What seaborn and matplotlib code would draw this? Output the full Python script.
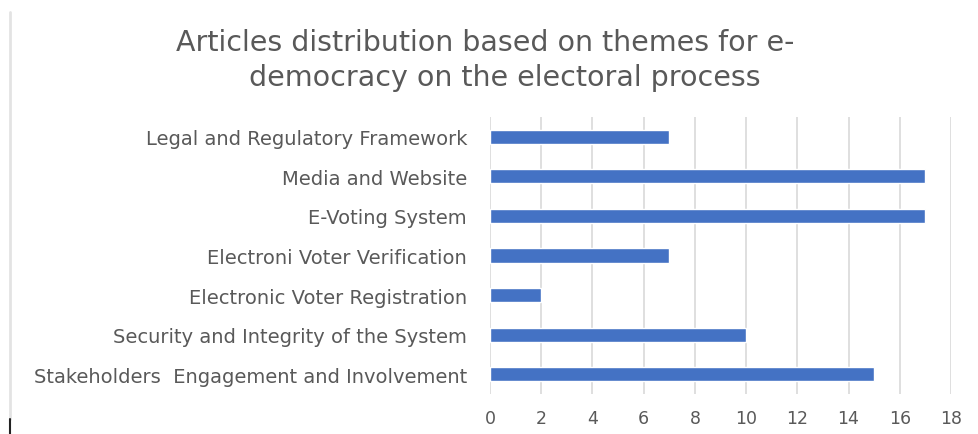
import matplotlib
matplotlib.use("Agg")
import matplotlib.pyplot as plt
from matplotlib.lines import Line2D
import seaborn as sns
import pandas as pd

themes = [
    "Legal and Regulatory Framework",
    "Media and Website",
    "E-Voting System",
    "Electroni Voter Verification",
    "Electronic Voter Registration",
    "Security and Integrity of the System",
    "Stakeholders  Engagement and Involvement",
]
articles = [7, 17, 17, 7, 2, 10, 15]
x_ticks = [0, 2, 4, 6, 8, 10, 12, 14, 16, 18]

title_line1 = "Articles distribution based on themes for e-"
title_line2 = "democracy on the electoral process"

df = pd.DataFrame({"theme": themes, "articles": articles})

sns.set_theme(style="white")
plt.rcParams["font.family"] = ["DejaVu Sans"]

text_color = "#595959"
bar_color = "#4472C4"
grid_color = "#D9D9D9"

fig = plt.figure(figsize=(9.79, 4.35), dpi=100)
ax = fig.add_axes([490 / 979, 1 - 395 / 435, (951 - 490) / 979, (395 - 118) / 435])

sns.barplot(data=df, x="articles", y="theme", orient="h", color=bar_color,
            width=0.36, saturation=1, ax=ax, zorder=3)

ax.set_xlim(0, 18)
ax.set_xticks(x_ticks)
ax.set_xticklabels([str(t) for t in x_ticks])
ax.set_xlabel("")
ax.set_ylabel("")
ax.grid(axis="x", color=grid_color, linewidth=1.2, zorder=0)
ax.grid(axis="y", visible=False)
for s in ax.spines.values():
    s.set_visible(False)
ax.tick_params(axis="x", length=0, pad=11, labelsize=12.5, labelcolor=text_color)
ax.tick_params(axis="y", length=0, pad=16.5, labelsize=14, labelcolor=text_color)

fig.text(485 / 979, 1 - 43 / 435, title_line1, ha="center", va="center",
         fontsize=20.5, color=text_color)
fig.text(505 / 979, 1 - 78 / 435, title_line2, ha="center", va="center",
         fontsize=20.5, color=text_color)

# frame edge on the left of the canvas
fig.add_artist(Line2D([10 / 979, 10 / 979], [1 - 13 / 435, 1 - 420 / 435],
                      transform=fig.transFigure, color="#E3E3E3", linewidth=2))
fig.add_artist(Line2D([10 / 979, 10 / 979], [1 - 420 / 435, 0],
                      transform=fig.transFigure, color="#222222", linewidth=1.5))

fig.savefig("out.png", dpi=100, facecolor="white")
